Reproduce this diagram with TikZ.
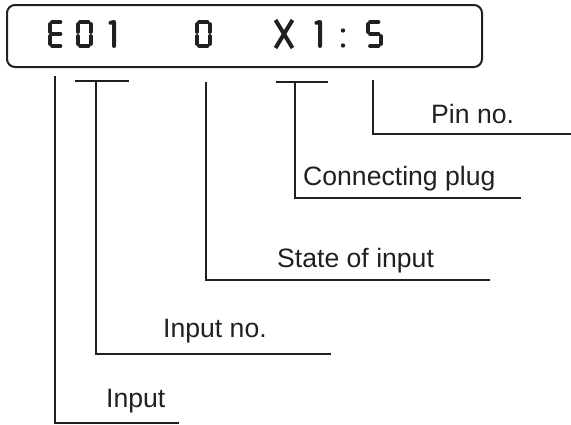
\documentclass[tikz,border=0pt]{standalone}
\usepackage{fontspec}
\setmainfont{Liberation Sans}
\usepackage{xcolor}

\definecolor{ink}{HTML}{231F20}

\tikzset{
	lead/.style={draw=ink, line width=1.1pt},
	seg/.style={draw=ink, line width=4pt, line cap=round, line join=round},
	lbl/.style={anchor=base west, inner sep=0pt, text=ink, font=\fontsize{26.6}{30}\selectfont},
}

% one seven-segment digit, #1 = left edge, #2 = list of segments
\newcommand{\lcd}[2]{%
	\begin{scope}[shift={(#1,0)}]
		\coordinate (tl) at (2,22);
		\coordinate (tr) at (14.5,22);
		\coordinate (ml) at (2,34);
		\coordinate (mr) at (14.5,34);
		\coordinate (bl) at (2,46);
		\coordinate (br) at (14.5,46);
		\foreach \p/\q in {#2}
			\draw[seg, shorten <=2.1pt, shorten >=2.1pt] (\p) -- (\q);
	\end{scope}}

\begin{document}
\begin{tikzpicture}[x=1pt, y=-1pt]
			\useasboundingbox (0,0) rectangle (571,424);
			
			% display
			\draw[ink, line width=2pt, rounded corners=8pt] (7,5) rectangle (482,67);
			
			\lcd{48}{tl/tr, tl/ml, ml/bl, bl/br, ml/mr}
			\lcd{76}{tl/tr, tr/mr, mr/br, bl/br, ml/bl, tl/ml}
			\draw[seg] (110.5,22.8) -- (114,22) -- (114,46);
			\lcd{195}{tl/tr, tr/mr, mr/br, bl/br, ml/bl, tl/ml}
			\begin{scope}[ink, line width=4pt]
				\draw (275.5,20) -- (292.5,48);
				\draw (292.5,20) -- (275.5,48);
			\end{scope}
			\draw[seg] (316.5,22.8) -- (320,22) -- (320,46);
			\fill[ink] (343,30.5) circle [radius=2.2] (343,45.5) circle [radius=2.2];
			\lcd{366}{tl/tr, tl/ml, ml/mr, mr/br, bl/br}
			
			% labels
			\node[lbl] (pinLbl) at (431,123) {Pin no.};
			\node[lbl] (plugLbl) at (303,185) {Connecting plug};
			\node[lbl] (stateLbl) at (277,267) {State of input};
			\node[lbl] (numLbl) at (163,337) {Input no.};
			\node[lbl] (inLbl) at (106,407) {Input};
			
			% leads
			\coordinate (pinTop) at (373,80);
			\coordinate (pinEnd) at (571,134);
			\draw[lead] (pinTop) |- (pinEnd);
			
			\coordinate (plugBarL) at (276,82);
			\coordinate (plugBarR) at (328,82);
			\coordinate (plugTop) at (295,82);
			\coordinate (plugEnd) at (521,198);
			\draw[lead] (plugBarL) -- (plugBarR);
			\draw[lead] (plugTop) |- (plugEnd);
			
			\coordinate (stateTop) at (206,82);
			\coordinate (stateEnd) at (490,280);
			\draw[lead] (stateTop) |- (stateEnd);
			
			\coordinate (numBarL) at (75,81);
			\coordinate (numBarR) at (129,81);
			\coordinate (numTop) at (96,81);
			\coordinate (numEnd) at (331,354);
			\draw[lead] (numBarL) -- (numBarR);
			\draw[lead] (numTop) |- (numEnd);
			
			\coordinate (inTop) at (55,76);
			\coordinate (inEnd) at (179,423);
			\draw[lead] (inTop) |- (inEnd);
\end{tikzpicture}
\end{document}
